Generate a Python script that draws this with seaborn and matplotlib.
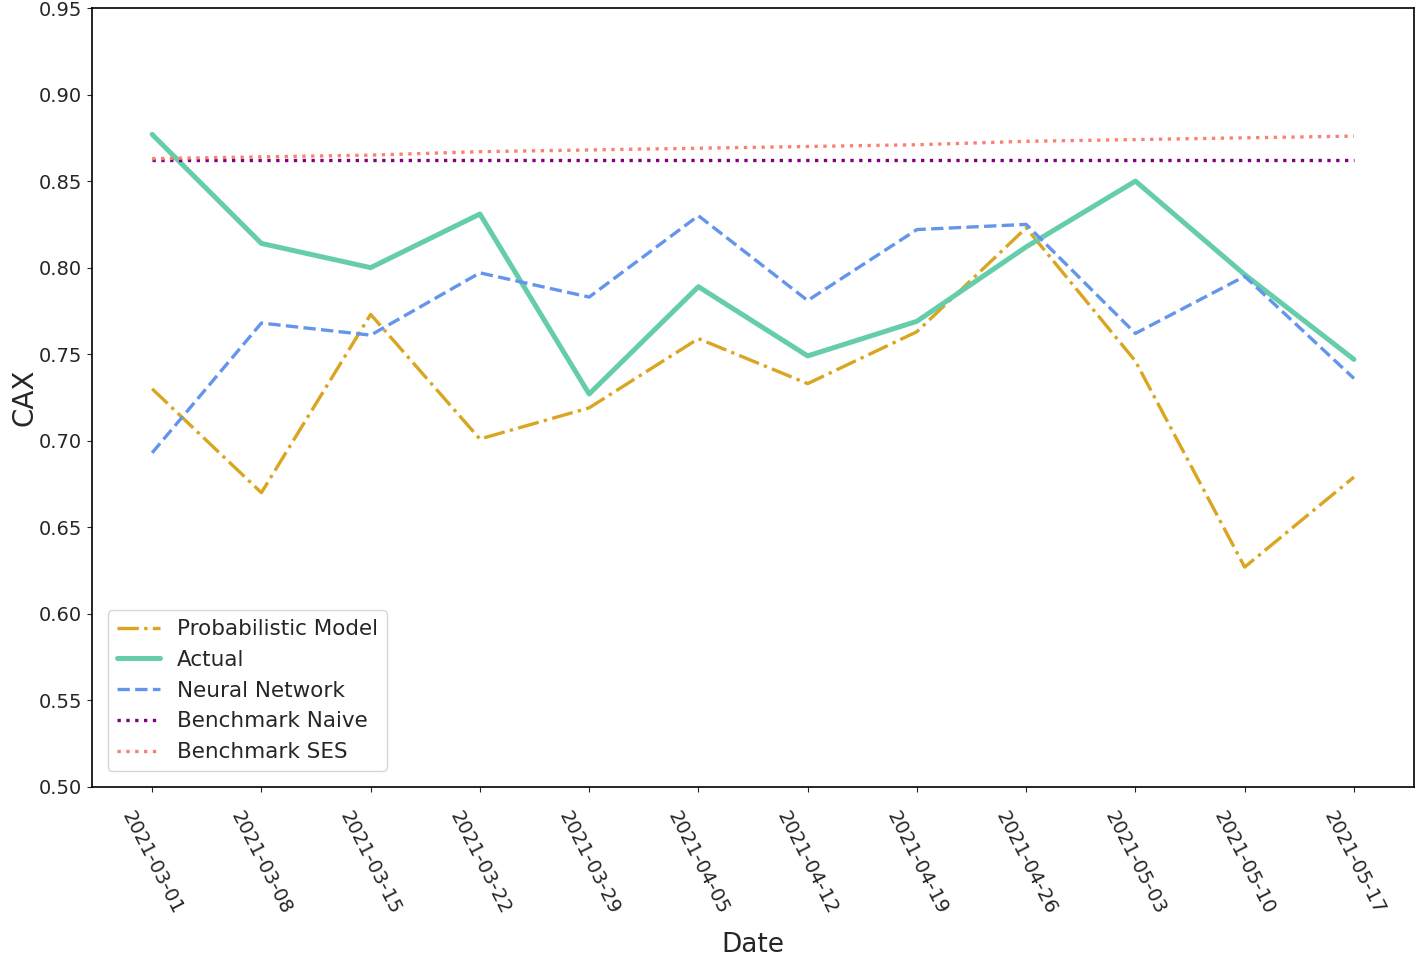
import matplotlib
matplotlib.use("Agg")
import matplotlib.pyplot as plt
import seaborn as sns
import pandas as pd

dates = ["2021-03-01", "2021-03-08", "2021-03-15", "2021-03-22", "2021-03-29", "2021-04-05",
         "2021-04-12", "2021-04-19", "2021-04-26", "2021-05-03", "2021-05-10", "2021-05-17"]
probabilistic = [0.730, 0.670, 0.773, 0.701, 0.719, 0.759, 0.733, 0.763, 0.823, 0.746, 0.627, 0.679]
actual = [0.877, 0.814, 0.800, 0.831, 0.727, 0.789, 0.749, 0.769, 0.812, 0.850, 0.796, 0.747]
neural = [0.693, 0.768, 0.761, 0.797, 0.783, 0.830, 0.781, 0.822, 0.825, 0.762, 0.795, 0.736]
naive = [0.862] * 12
ses = [0.863, 0.864, 0.865, 0.867, 0.868, 0.869, 0.870, 0.871, 0.873, 0.874, 0.875, 0.876]

sns.set_style("ticks")
plt.rcParams['font.family'] = ['DejaVu Sans']

fig, ax = plt.subplots(figsize=(14.16, 9.55), dpi=100)

series = [
    ("Probabilistic Model", probabilistic, "#DAA520", "-.", 2.4),
    ("Actual", actual, "#66CDAA", "-", 3.6),
    ("Neural Network", neural, "#6495ED", "--", 2.4),
    ("Benchmark Naive", naive, "#800080", ":", 2.4),
    ("Benchmark SES", ses, "#FA8072", ":", 2.4),
]
x = pd.to_datetime(dates)
for name, vals, color, ls, lw in series:
    df = pd.DataFrame({"Date": x, "CAX": vals})
    sns.lineplot(data=df, x="Date", y="CAX", ax=ax, color=color, linestyle=ls,
                 linewidth=lw, label=name)

ax.set_ylim(0.50, 0.95)
ax.set_xticks(x)
ax.set_xticklabels(dates, rotation=-63, fontsize=14)
ax.tick_params(axis='x', pad=12)
ax.tick_params(axis='y', labelsize=14)
ax.set_yticks([0.50, 0.55, 0.60, 0.65, 0.70, 0.75, 0.80, 0.85, 0.90, 0.95])
ax.set_yticklabels([f"{v:.2f}" for v in ax.get_yticks()])
ax.set_xlabel("Date", fontsize=19, labelpad=10)
ax.set_ylabel("CAX", fontsize=20, labelpad=0)
ax.legend(loc="lower left", fontsize=15.5, frameon=True, borderaxespad=0.75,
          labelspacing=0.5)
for s in ax.spines.values():
    s.set_color("black")
    s.set_linewidth(1.2)

fig.subplots_adjust(left=0.065, right=0.9986, top=0.9916, bottom=0.176)
fig.savefig("out.png", dpi=100)
